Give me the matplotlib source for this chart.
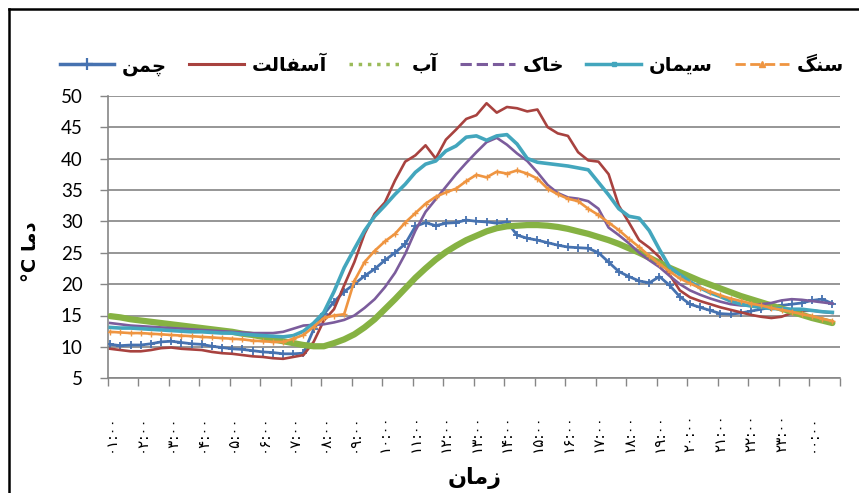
import matplotlib
matplotlib.use('Agg')
import matplotlib.pyplot as plt
from matplotlib.lines import Line2D
from matplotlib.font_manager import FontProperties
import numpy as np

# ---------------- data (one value every 20 minutes, starting 01:00) ----------------
slots = np.arange(0, 144, 2)          # 10-minute category slots

chaman = [10.4, 10.2, 10.3, 10.3, 10.5, 10.8, 10.9, 10.7, 10.5, 10.4,
          10.1, 9.9, 9.7, 9.6, 9.4, 9.2, 9.1, 8.9, 8.9, 9.0,
          12.8, 15.2, 17.2, 18.8, 20.0, 21.3, 22.4, 23.8, 25.0, 26.4,
          29.2, 29.8, 29.3, 29.7, 29.8, 30.2, 30.0, 29.9, 29.7, 29.9,
          27.8, 27.3, 27.0, 26.6, 26.2, 25.9, 25.8, 25.7, 25.0, 23.5,
          22.0, 21.2, 20.5, 20.2, 21.2, 19.8, 18.0, 16.8, 16.3, 15.8,
          15.3, 15.2, 15.4, 15.7, 16.0, 16.3, 16.6, 16.8, 17.0, 17.4,
          17.6, 16.9]

asphalt = [9.7, 9.5, 9.3, 9.3, 9.5, 9.8, 9.9, 9.7, 9.6, 9.5,
           9.2, 9.0, 8.9, 8.7, 8.5, 8.4, 8.2, 8.1, 8.4, 8.7,
           10.8, 14.2, 16.0, 19.8, 23.5, 28.0, 31.2, 33.0, 36.5, 39.5,
           40.5, 42.1, 40.0, 43.0, 44.6, 46.3, 46.9, 48.8, 47.3, 48.2,
           48.0, 47.5, 47.8, 45.0, 44.0, 43.6, 41.0, 39.7, 39.5, 37.5,
           32.5, 29.8, 27.0, 25.8, 24.3, 21.5, 19.0, 17.9, 17.3, 16.8,
           16.3, 15.9, 15.5, 15.1, 14.8, 14.6, 14.8, 15.4, 15.7, 15.8,
           15.6, 15.4]

ab = [14.9, 14.7, 14.4, 14.2, 14.0, 13.8, 13.6, 13.4, 13.2, 13.0,
      12.8, 12.6, 12.4, 12.1, 11.9, 11.6, 11.2, 10.9, 10.6, 10.3,
      10.1, 10.1, 10.6, 11.2, 12.0, 13.1, 14.4, 16.0, 17.6, 19.3,
      21.0, 22.5, 23.9, 25.1, 26.1, 27.0, 27.7, 28.4, 28.9, 29.2,
      29.3, 29.4, 29.4, 29.3, 29.1, 28.8, 28.4, 28.0, 27.5, 27.0,
      26.4, 25.7, 25.0, 24.2, 23.4, 22.6, 21.9, 21.2, 20.5, 19.9,
      19.3, 18.7, 18.1, 17.6, 17.1, 16.6, 16.1, 15.6, 15.1, 14.6,
      14.2, 13.8]

khak = [13.8, 13.6, 13.4, 13.3, 13.2, 13.1, 13.0, 12.9, 12.8, 12.7,
        12.6, 12.5, 12.4, 12.3, 12.2, 12.2, 12.2, 12.4, 12.9, 13.4,
        13.5, 13.6, 13.9, 14.3, 15.0, 16.2, 17.6, 19.5, 21.8, 24.8,
        28.5, 31.5, 33.5, 35.5, 37.5, 39.3, 41.0, 42.6, 43.3, 42.2,
        40.8, 39.6, 37.8, 35.8, 34.5, 33.8, 33.6, 33.2, 32.0, 29.0,
        27.8, 26.5, 25.0, 23.8, 22.7, 21.3, 20.0, 19.0, 18.3, 17.7,
        17.2, 16.8, 16.6, 16.6, 16.8, 17.0, 17.4, 17.6, 17.5, 17.3,
        17.1, 16.9]

siman = [13.1, 13.0, 13.0, 12.9, 12.8, 12.7, 12.6, 12.5, 12.4, 12.4,
         12.3, 12.2, 12.2, 12.0, 11.9, 11.8, 11.7, 11.6, 11.8, 12.5,
         13.8, 15.5, 18.8, 22.6, 25.6, 28.5, 30.8, 32.5, 34.3, 35.9,
         37.8, 39.1, 39.6, 41.2, 42.0, 43.4, 43.6, 42.9, 43.6, 43.8,
         42.3, 40.0, 39.4, 39.2, 39.0, 38.8, 38.5, 38.2, 36.2, 34.2,
         32.0, 30.8, 30.5, 28.5, 25.5, 22.7, 21.5, 20.4, 19.4, 18.6,
         18.0, 17.3, 16.8, 16.5, 16.3, 16.1, 16.1, 16.0, 16.0, 15.8,
         15.6, 15.5]

sang = [12.4, 12.3, 12.2, 12.2, 12.1, 12.0, 11.9, 11.8, 11.7, 11.6,
        11.5, 11.4, 11.3, 11.2, 11.0, 10.9, 10.8, 10.8, 11.3, 11.9,
        13.2, 14.6, 15.0, 15.2, 20.5, 23.5, 25.3, 26.8, 28.0, 29.8,
        31.3, 32.8, 33.9, 34.6, 35.2, 36.4, 37.4, 37.0, 37.9, 37.6,
        38.1, 37.6, 36.8, 35.2, 34.3, 33.6, 33.2, 32.0, 31.0, 29.8,
        28.6, 27.2, 25.9, 24.5, 23.2, 22.0, 20.9, 20.1, 19.4, 18.8,
        18.2, 17.7, 17.3, 16.9, 16.6, 16.2, 15.9, 15.6, 15.2, 14.9,
        14.5, 14.1]

hour_labels = ['۰۱:۰۰', '۰۲:۰۰', '۰۳:۰۰', '۰۴:۰۰', '۰۵:۰۰', '۰۶:۰۰',
               '۰۷:۰۰', '۰۸:۰۰', '۰۹:۰۰', '۱۰:۰۰', '۱۱:۰۰', '۱۲:۰۰',
               '۱۳:۰۰', '۱۴:۰۰', '۱۵:۰۰', '۱۶:۰۰', '۱۷:۰۰', '۱۸:۰۰',
               '۱۹:۰۰', '۲۰:۰۰', '۲۱:۰۰', '۲۲:۰۰', '۲۳:۰۰', '۰۰:۰۰']
y_ticks = [5, 10, 15, 20, 25, 30, 35, 40, 45, 50]

# Persian words, pre-shaped (presentation forms, visual order)
lbl_chaman = '\uFEE6\uFEE4\uFB7C'                  # چمن
lbl_asphalt = '\uFE96\uFEDF\uFE8E\uFED4\uFEB3\uFE81'  # آسفالت
lbl_ab = '\uFE8F\uFE81'                             # آب
lbl_khak = '\uFB8E\uFE8E\uFEA7'                     # خاک
lbl_siman = '\uFEE5\uFE8E\uFEE4\uFBFE\uFEB3'        # سیمان
lbl_sang = '\uFB93\uFEE8\uFEB3'                     # سنگ
lbl_zaman = '\uFEE5\uFE8E\uFEE3\uFEAF'              # زمان
lbl_dama = '\uFE8E\uFEE3\uFEA9'                     # دما

# ---------------- styling ----------------
c_blue = '#4672b0'
c_red = '#a8423f'
c_green = '#86b243'
c_purple = '#7b5c9c'
c_teal = '#43a6bd'
c_orange = '#ef9541'

W, H = 859, 493
fig = plt.figure(figsize=(W / 100, H / 100), dpi=100)
fig.patch.set_facecolor('white')
x0, x1, ytop, ybot = 107.7, 840.0, 95.7, 378.3
ax = fig.add_axes([x0 / W, 1 - ybot / H, (x1 - x0) / W, (ybot - ytop) / H])

ax.plot(slots, chaman, color=c_blue, lw=2.0, marker='+', ms=6, mew=1.3, zorder=3)
ax.plot(slots, asphalt, color=c_red, lw=1.9, zorder=3)
ax.plot(slots, ab, color=c_green, lw=4.5, solid_capstyle='round', zorder=3)
ax.plot(slots, khak, color=c_purple, lw=1.9, zorder=3)
ax.plot(slots, siman, color=c_teal, lw=2.6, zorder=3)
ax.plot(slots, sang, color=c_orange, lw=1.9, marker='+', ms=4, mew=1.0, zorder=3)

ax.set_xlim(-0.5, 143.5)
ax.set_ylim(5, 50)
ax.set_yticks(y_ticks)
ax.set_yticklabels([str(v) for v in y_ticks], family='Lato', fontsize=13.5)
ax.yaxis.grid(True, color='#8e8e8e', lw=1.3)
ax.set_axisbelow(True)

ax.set_xticks(np.arange(0, 144, 6))
ax.set_xticklabels(hour_labels, rotation=90, family='DejaVu Sans', fontsize=11)
ax.set_xticks(np.arange(-0.5, 144, 6), minor=True)
ax.tick_params(axis='x', which='major', length=0, pad=26)
ax.tick_params(axis='x', which='minor', length=6, color='#868686', width=1)
ax.tick_params(axis='y', length=6, color='#868686', width=1, pad=12)

for s in ['top', 'right']:
    ax.spines[s].set_visible(False)
for s in ['left', 'bottom']:
    ax.spines[s].set_color('#868686')
    ax.spines[s].set_linewidth(1.2)

# axis titles
fig.text(31 / W, 1 - 252 / H, '°C ' + lbl_dama, rotation=90, ha='center', va='center',
         family='DejaVu Sans', fontweight='bold', fontsize=14)
fig.text(475 / W, 1 - 478 / H, lbl_zaman, ha='center', va='center',
         family='DejaVu Sans', fontweight='bold', fontsize=16)

# legend
handles = [
    Line2D([], [], color=c_blue, lw=2.5, marker='+', ms=9, mew=1.6),
    Line2D([], [], color=c_red, lw=2.2),
    Line2D([], [], color='#9bbb59', lw=2.5, ls=':'),
    Line2D([], [], color=c_purple, lw=2.2, ls='--'),
    Line2D([], [], color=c_teal, lw=2.5, marker='s', ms=3),
    Line2D([], [], color=c_orange, lw=2.0, ls='--', marker='^', ms=4),
]
labels = [lbl_chaman, lbl_asphalt, lbl_ab, lbl_khak, lbl_siman, lbl_sang]
fig.legend(handles, labels, loc='center', bbox_to_anchor=(452 / W, 1 - 65 / H), ncol=6,
           frameon=False, handlelength=2.8, handletextpad=0.4, columnspacing=1.15,
           borderpad=0.2, prop=FontProperties(family='DejaVu Sans', weight='bold', size=14))

# outer frame (left and top edges of the original picture box)
fig.add_artist(Line2D([8.5 / W, 8.5 / W], [0, 1 - 9 / H], transform=fig.transFigure,
                      color='black', lw=1.8))
fig.add_artist(Line2D([8.5 / W, 1], [1 - 9 / H, 1 - 9 / H], transform=fig.transFigure,
                      color='black', lw=1.8))

fig.savefig('out.png', dpi=100, facecolor='white')
